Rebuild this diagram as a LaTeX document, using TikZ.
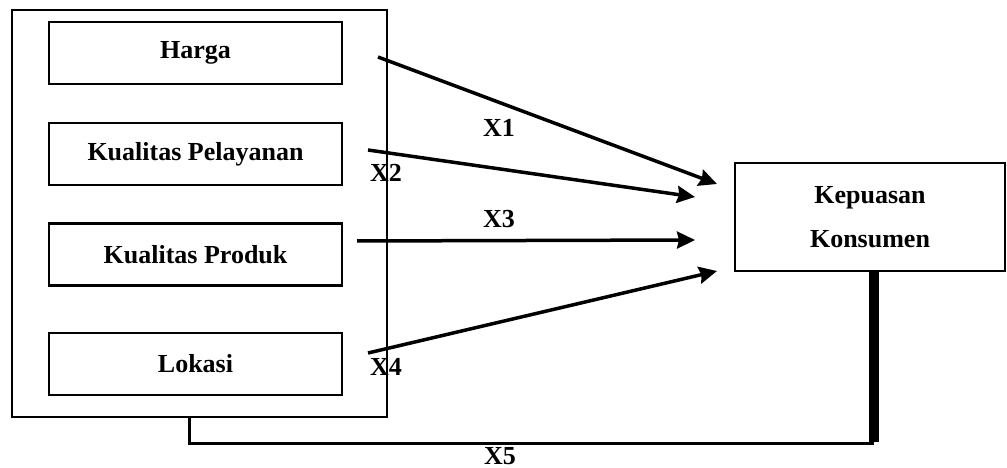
\documentclass[tikz,border=0pt]{standalone}
\usepackage{fontspec}
\setmainfont{Liberation Serif}
\usetikzlibrary{arrows.meta}
\begin{document}
\begin{tikzpicture}[x=1pt,y=-1pt,
  txt/.style={font=\fontsize{26}{44}\selectfont\bfseries},
  varbox/.style={draw, line width=2.5pt, minimum width=293pt, minimum height=62pt,
                 inner sep=0pt, txt},
  lbl/.style={inner sep=0pt, txt},
  arr/.style={line width=3.5pt, -{Stealth[length=18pt,width=17pt,inset=2pt]}}]
\useasboundingbox (0,0) rectangle (1007,468);

% independent variables grouped in one frame
\node[draw, line width=2pt, minimum width=375pt, minimum height=407pt, inner sep=0pt]
  (grp) at (199.5,213.5) {};
\node[varbox] (harga)   at (195.5,53)  {Harga};
\node[varbox] (layanan) at (195.5,154) {Kualitas Pelayanan};
\node[varbox] (produk)  at (195.5,254.5) {Kualitas Produk};
\node[varbox] (lokasi)  at (195.5,364) {Lokasi};

% dependent variable
\node[draw, line width=2pt, minimum width=270pt, minimum height=108pt, inner sep=0pt,
      align=center, txt] (kep) at (870,217) {Kepuasan\\Konsumen};

% arrow end points
\coordinate (s1) at (378,57);  \coordinate (t1) at (717,184);
\coordinate (s2) at (368,150); \coordinate (t2) at (695,197);
\coordinate (s3) at (357,241); \coordinate (t3) at (695,240);
\coordinate (s4) at (368,353); \coordinate (t4) at (717,271);

\draw[arr] (s1) -- (t1);
\draw[arr] (s2) -- (t2);
\draw[arr] (s3) -- (t3);
\draw[arr] (s4) -- (t4);

\node[lbl] (x1) at (499,128) {X1};
\node[lbl] (x2) at (386,173) {X2};
\node[lbl] (x3) at (499,219) {X3};
\node[lbl] (x4) at (386,367) {X4};

% simultaneous path from the whole frame
\coordinate (drop) at (189,417);
\coordinate (corner) at (874,443);
\draw[line width=3pt] (drop) -- (drop |- corner) -- (corner);
\draw[line width=10pt] ([yshift=1.5pt]corner) -- (corner |- kep.south);
\node[lbl] (x5) at (500,456) {X5};
\end{tikzpicture}
\end{document}
